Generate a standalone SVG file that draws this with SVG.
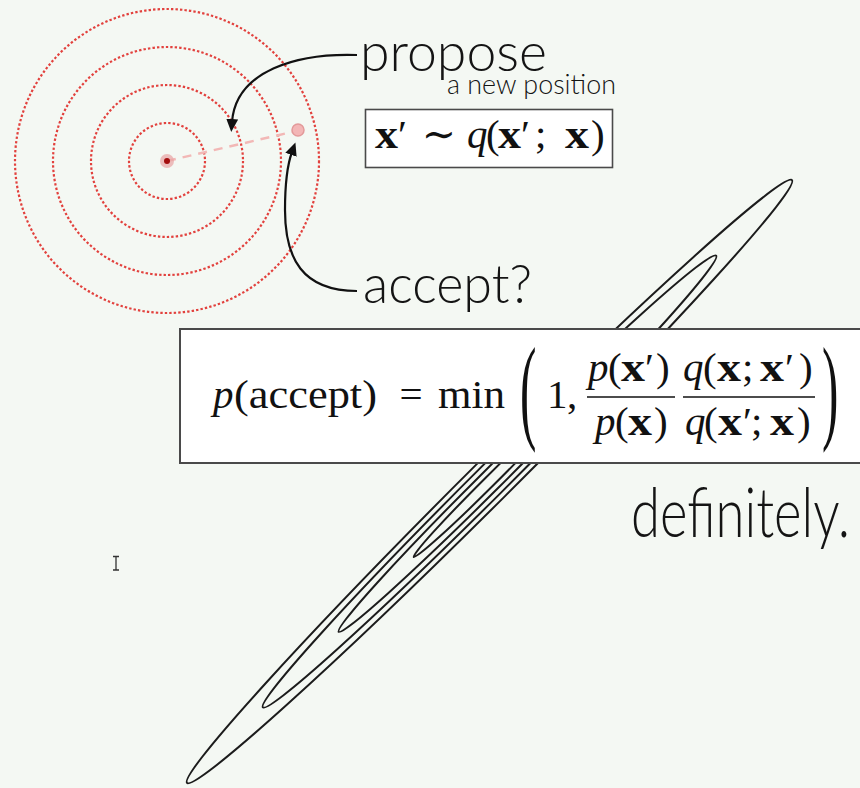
<svg xmlns="http://www.w3.org/2000/svg" width="860" height="788" viewBox="0 0 860 788">
<defs>
<style>
.ring{fill:none;stroke:#e2413d;stroke-width:2.2;stroke-dasharray:2.4 2.1}
.contour{fill:none;stroke:#1c1c1c;stroke-width:2}
.conn{fill:none;stroke:#111;stroke-width:2.2}
.sans{font-family:Lato,"Open Sans","Liberation Sans",sans-serif;font-weight:300;fill:#141414}
.m{font-family:"Liberation Serif","DejaVu Serif",serif;font-size:41px;fill:#111}
.big{font-size:117px}
.it{font-style:italic}
.bx{font-weight:bold}
.box{fill:#fff;stroke:#4a4a4a}
</style>
<marker id="ah" markerWidth="14" markerHeight="12" refX="3" refY="6" orient="auto" markerUnits="userSpaceOnUse">
<path d="M0,0 L13,6 L0,12 z" fill="#111"/>
</marker>
</defs>
<rect width="860" height="788" fill="#f4f8f3"/>

<g id="target-rings">
<circle class="ring" cx="167" cy="161" r="38"/>
<circle class="ring" cx="167" cy="161" r="76"/>
<circle class="ring" cx="167" cy="161" r="114"/>
<circle class="ring" cx="167" cy="161" r="152"/>
</g>

<g id="proposal-step">
<line x1="167" y1="161" x2="292" y2="132" stroke="#f2b8b6" stroke-width="2.5" stroke-dasharray="9 7"/>
<circle cx="167" cy="161" r="7" fill="#e8a2a2" opacity="0.7"/>
<circle cx="167" cy="161" r="3" fill="#a30d0d"/>
<circle cx="298" cy="130" r="6" fill="#f3b6b6" stroke="#e39a9a" stroke-width="1.5"/>
</g>

<g id="contours">
<ellipse class="contour" cx="489.5" cy="481.5" rx="427" ry="21.3" transform="rotate(-44.9 489.5 481.5)"/>
<ellipse class="contour" cx="489.5" cy="481.5" rx="320" ry="16" transform="rotate(-44.9 489.5 481.5)"/>
<ellipse class="contour" cx="489.5" cy="481.5" rx="213" ry="10.7" transform="rotate(-44.9 489.5 481.5)"/>
<ellipse class="contour" cx="489.5" cy="481.5" rx="107" ry="5.4" transform="rotate(-44.9 489.5 481.5)"/>
</g>

<g id="connectors">
<path class="conn" d="M357,55 C298,53 236,70 232,122" marker-end="url(#ah)"/>
<path class="conn" d="M357,291 C302,291 285,258 285,210 C285,180 288,163 292,152" marker-end="url(#ah)"/>
</g>

<g id="propose-label">
<text class="sans" x="360" y="71" font-size="54" textLength="187" lengthAdjust="spacingAndGlyphs">propose</text>
<text class="sans" x="447" y="94" font-size="28" textLength="169" lengthAdjust="spacingAndGlyphs">a new position</text>
</g>

<g id="proposal-box">
<rect class="box" x="365.5" y="109.5" width="247" height="58" stroke-width="1.6"/>
<text class="m bx" x="375" y="148" textLength="23" lengthAdjust="spacingAndGlyphs">x</text>
<text class="m" x="398" y="148">′</text>
<text class="m" x="439" y="148" text-anchor="middle">∼</text>
<text class="m it" x="467" y="148">q</text>
<text class="m" x="486" y="148">(</text>
<text class="m bx" x="498" y="148" textLength="23" lengthAdjust="spacingAndGlyphs">x</text>
<text class="m" x="521" y="148">′</text>
<text class="m" x="535" y="148">;</text>
<text class="m bx" x="565" y="148" textLength="24" lengthAdjust="spacingAndGlyphs">x</text>
<text class="m" x="591" y="148">)</text>
</g>

<g id="accept-label">
<text class="sans" x="363" y="303" font-size="54" textLength="169" lengthAdjust="spacingAndGlyphs">accept?</text>
</g>

<g id="accept-box">
<rect class="box" x="180" y="329" width="690" height="134" stroke-width="2"/>
<text class="m it" x="213" y="408">p</text>
<text class="m" x="234" y="408" textLength="143" lengthAdjust="spacingAndGlyphs">(accept)</text>
<text class="m" x="411" y="408" text-anchor="middle">=</text>
<text class="m" x="438" y="408" textLength="67" lengthAdjust="spacingAndGlyphs">min</text>
<text class="m big" transform="translate(520,428) scale(0.42,1)">(</text>
<text class="m" x="547" y="408">1</text>
<text class="m" x="567" y="408">,</text>
<text class="m it" x="588" y="381">p</text>
<text class="m" x="608" y="381">(</text>
<text class="m bx" x="621" y="381" textLength="24" lengthAdjust="spacingAndGlyphs">x</text>
<text class="m" x="645" y="381">′</text>
<text class="m" x="656" y="381">)</text>
<line x1="587" y1="397" x2="675" y2="397" stroke="#111" stroke-width="1.6"/>
<text class="m it" x="595" y="435">p</text>
<text class="m" x="615" y="435">(</text>
<text class="m bx" x="628" y="435" textLength="24" lengthAdjust="spacingAndGlyphs">x</text>
<text class="m" x="654" y="435">)</text>
<text class="m it" x="683" y="381">q</text>
<text class="m" x="703" y="381">(</text>
<text class="m bx" x="717" y="381" textLength="24" lengthAdjust="spacingAndGlyphs">x</text>
<text class="m" x="742" y="381">;</text>
<text class="m bx" x="760" y="381" textLength="24" lengthAdjust="spacingAndGlyphs">x</text>
<text class="m" x="785" y="381">′</text>
<text class="m" x="799" y="381">)</text>
<line x1="683" y1="397" x2="815" y2="397" stroke="#111" stroke-width="1.6"/>
<text class="m it" x="685" y="435">q</text>
<text class="m" x="704" y="435">(</text>
<text class="m bx" x="718" y="435" textLength="24" lengthAdjust="spacingAndGlyphs">x</text>
<text class="m" x="743" y="435">′</text>
<text class="m" x="751" y="435">;</text>
<text class="m bx" x="770" y="435" textLength="24" lengthAdjust="spacingAndGlyphs">x</text>
<text class="m" x="797" y="435">)</text>
<text class="m big" transform="translate(822,428) scale(0.42,1)">)</text>
</g>

<g id="definitely-label">
<text class="sans" x="631" y="537" font-size="68" textLength="219" lengthAdjust="spacingAndGlyphs">definitely.</text>
</g>

<g id="cursor">
<path d="M113,556.5 H119 M116,556.5 V570 M113,570 H119" fill="none" stroke="#333" stroke-width="1.3"/>
</g>
</svg>
